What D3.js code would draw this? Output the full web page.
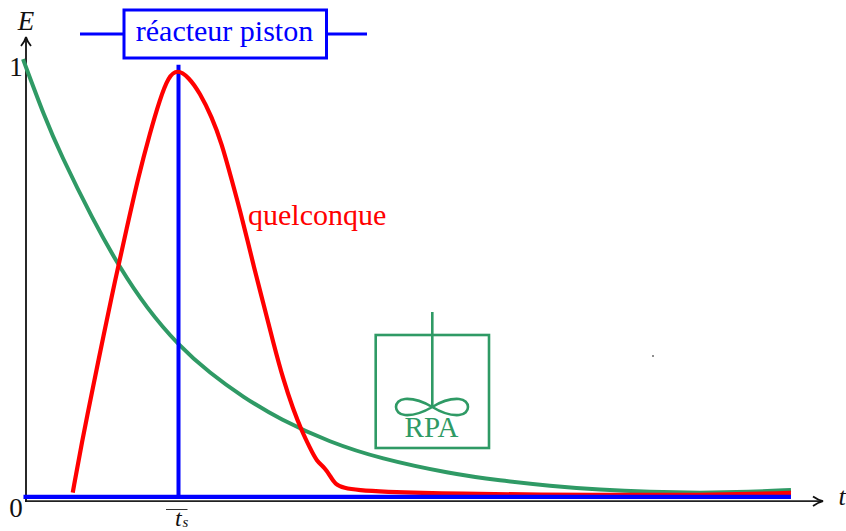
<!DOCTYPE html>
<html>
<head>
<meta charset="utf-8">
<script src="https://cdn.jsdelivr.net/npm/d3@7"></script>
<style>
  html, body { margin: 0; padding: 0; background: #fff; overflow: hidden; }
  svg { display: block; }
  text { font-family: "Liberation Serif", serif; }
</style>
</head>
<body>
<div id="chart"></div>
<script>
const w = 846;
const h = 531;

// values, t in units of the mean residence time
const greenT = [-0.013, -0.013, 0.13, 0.228, 0.443, 0.619, 0.793, 0.997, 1.205, 1.42, 1.661, 1.987, 2.313, 2.769, 3.094, 3.42, 3.746, 4.072, 4.397, 4.723, 4.99, 4.99];
const greenE = [1.002, 1.002, 0.868, 0.789, 0.636, 0.527, 0.436, 0.352, 0.288, 0.234, 0.183, 0.131, 0.094, 0.06, 0.044, 0.032, 0.023, 0.018, 0.016, 0.018, 0.023, 0.023];
const redT = [0.311, 0.311, 0.369, 0.445, 0.51, 0.586, 0.663, 0.738, 0.814, 0.879, 0.934, 0.992, 1.064, 1.14, 1.216, 1.281, 1.347, 1.412, 1.498, 1.552, 1.618, 1.683, 1.748, 1.803, 1.857, 1.9, 1.954, 1.987, 2.02, 2.074, 2.182, 2.313, 2.769, 3.746, 4.397, 4.99, 4.99];
const redE = [0.017, 0.017, 0.129, 0.26, 0.371, 0.498, 0.618, 0.734, 0.834, 0.911, 0.962, 0.979, 0.962, 0.925, 0.871, 0.811, 0.727, 0.644, 0.52, 0.448, 0.357, 0.273, 0.205, 0.157, 0.118, 0.088, 0.073, 0.055, 0.036, 0.027, 0.022, 0.019, 0.014, 0.011, 0.011, 0.016, 0.016];
const plugT = [1, 1];
const plugE = [0.007, 0.989];
const baseT = [-0.01, 4.99];
const baseE = [0.007, 0.007];
const yTicks = [0, 1];

const svg = d3.select("#chart").append("svg")
  .attr("width", w)
  .attr("height", h);

const x = d3.scaleLinear().domain([0, 5]).range([25, 792.5]);
const y = d3.scaleLinear().domain([0, 1]).range([500, 60]);

const BLUE = "#0000ff";
const RED = "#ff0000";
const GREEN = "#2f9a65";
const INK = "#111";

// axes
svg.append("line").attr("x1", 25).attr("x2", 822).attr("y1", 501.2).attr("y2", 501.2)
  .attr("stroke", "#222").attr("stroke-width", 1.8);
svg.append("line").attr("x1", 26).attr("x2", 26).attr("y1", 502).attr("y2", 38)
  .attr("stroke", INK).attr("stroke-width", 1.8);
svg.append("path").attr("d", "M21,46 Q25,41 26,37 Q27,41 31,46")
  .attr("fill", "none").attr("stroke", INK).attr("stroke-width", 1.8);
svg.append("path").attr("d", "M813,496.5 Q818,500 823,501.2 Q818,502.5 813,506")
  .attr("fill", "none").attr("stroke", INK).attr("stroke-width", 1.8);

// curves
const smooth = d3.line().curve(d3.curveBasis);
const straight = d3.line();
function curve(gen, ts, es, color, sw) {
  svg.append("path")
    .attr("d", gen(ts.map((t, i) => [x(t), y(es[i])])))
    .attr("fill", "none")
    .attr("stroke", color)
    .attr("stroke-width", sw);
}
curve(smooth, greenT, greenE, GREEN, 4);
curve(straight, plugT, plugE, BLUE, 4);
curve(smooth, redT, redE, RED, 4.2);
curve(straight, baseT, baseE, BLUE, 4.4);

// tick labels
svg.selectAll(".ytick").data(yTicks).join("text")
  .attr("class", "ytick")
  .attr("x", 16)
  .attr("y", d => (d === 0 ? 517 : 76))
  .attr("text-anchor", "middle")
  .attr("font-size", 27)
  .attr("fill", INK)
  .text(d => d);

svg.append("text").attr("x", 26).attr("y", 30).attr("text-anchor", "middle")
  .attr("font-size", 27).attr("font-style", "italic").attr("fill", INK).text("E");
svg.append("text").attr("x", 842).attr("y", 505).attr("text-anchor", "middle")
  .attr("font-size", 26).attr("font-style", "italic").attr("fill", INK).text("t");

// mean residence time label
svg.append("line").attr("x1", 166).attr("x2", 187.5).attr("y1", 509.5).attr("y2", 509.5)
  .attr("stroke", "#333").attr("stroke-width", 1);
svg.append("text").attr("x", 175).attr("y", 525.5)
  .attr("font-size", 24).attr("font-style", "italic").attr("fill", INK).text("t");
svg.append("text").attr("x", 182.5).attr("y", 527)
  .attr("font-size", 15).attr("font-style", "italic").attr("fill", INK).text("s");

// plug flow reactor box
svg.append("line").attr("x1", 80).attr("x2", 367).attr("y1", 34).attr("y2", 34)
  .attr("stroke", BLUE).attr("stroke-width", 3);
svg.append("rect").attr("x", 124).attr("y", 10).attr("width", 202.5).attr("height", 48)
  .attr("fill", "#fff").attr("stroke", BLUE).attr("stroke-width", 3);
svg.append("text").attr("x", 224.5).attr("y", 41).attr("text-anchor", "middle")
  .attr("font-size", 30).attr("fill", BLUE).text("réacteur piston");

svg.append("text").attr("x", 248).attr("y", 225)
  .attr("font-size", 30).attr("fill", RED).text("quelconque");

// stirred tank
svg.append("rect").attr("x", 375.7).attr("y", 335).attr("width", 113.3).attr("height", 113)
  .attr("fill", "none").attr("stroke", GREEN).attr("stroke-width", 2.6);
svg.append("line").attr("x1", 432.3).attr("x2", 432.3).attr("y1", 312).attr("y2", 407)
  .attr("stroke", GREEN).attr("stroke-width", 2.6);
svg.append("path")
  .attr("d", "M432.3,407 C422,401 412,398.5 405,399 C393,400 393,414 405,415 C412,415.5 422,413 432.3,407 C442,401 452,398.5 459,399 C471,400 471,414 459,415 C452,415.5 442,413 432.3,407 Z")
  .attr("fill", "none").attr("stroke", GREEN).attr("stroke-width", 2.6);
svg.append("text").attr("x", 431.5).attr("y", 437).attr("text-anchor", "middle")
  .attr("font-size", 29).attr("fill", GREEN).text("RPA");

// small speck in the source picture
svg.append("circle").attr("cx", 653).attr("cy", 356).attr("r", 0.8).attr("fill", "#000");
</script>
</body>
</html>
